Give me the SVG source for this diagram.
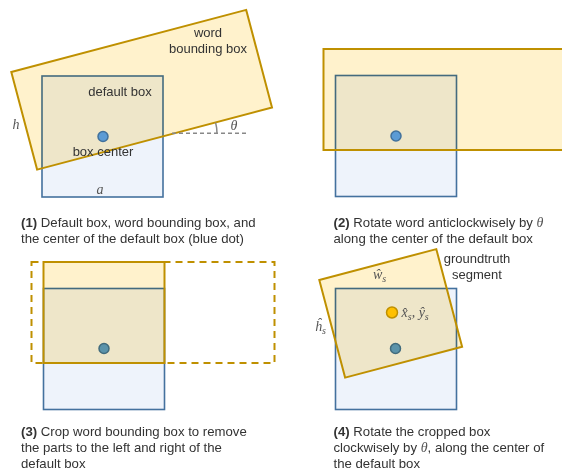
<svg xmlns="http://www.w3.org/2000/svg" width="562" height="470" viewBox="0 0 562 470">
<style>
.dbox{fill:#eef3fb;stroke:#44719e;stroke-width:1.6}
.wfill{fill:#fff2cc;stroke:none;mix-blend-mode:multiply}
.wline{fill:none;stroke:#bf9000;stroke-width:2}
.dash{fill:none;stroke:#bf9000;stroke-width:2;stroke-dasharray:7,5}
.dot{fill:#5b9bd5;stroke:#41719c;stroke-width:1.5}
.ydot{fill:#ffc000;stroke:#bf9000;stroke-width:1.5}
.lbl{font-family:"Liberation Sans",Arial,Helvetica,sans-serif;font-size:13px;fill:#333}
.cap{font-family:"Liberation Sans",Arial,Helvetica,sans-serif;font-size:13.2px;fill:#333}
.b{font-weight:bold}
.math{font-family:"Liberation Serif","DejaVu Serif",serif;font-style:italic;font-size:14px;fill:#555}
.sub{font-size:10px}
</style>
<defs>
  <polygon id="wb1" points="11.3,72 246.2,9.9 272,107.5 37.1,169.6"/>
  <rect id="wb2" x="323.5" y="49" width="243" height="101"/>
  <rect id="wb3" x="43.5" y="262" width="121" height="101"/>
  <polygon id="wb4" points="319.3,280 436.3,249.1 462.1,346.7 345.1,377.6"/>
</defs>

<!-- Panel 1 -->
<g id="panel1">
  <g id="p1-default-box"><rect class="dbox" x="42" y="76" width="121" height="121"/></g>
  <g id="p1-word-box"><use href="#wb1" class="wfill"/><use href="#wb1" class="wline"/></g>
  <g id="p1-center"><circle class="dot" cx="103" cy="136.5" r="5"/></g>
  <g id="connectors">
    <line x1="172" y1="133.3" x2="247" y2="133.3" stroke="#888" stroke-width="1.5" stroke-dasharray="4,3"/>
    <path d="M215.6,122.6 A42,42 0 0 1 217,133.3" fill="none" stroke="#888" stroke-width="1.5"/>
  </g>
  <text class="lbl" x="208" y="37" text-anchor="middle">word</text>
  <text class="lbl" x="208" y="53" text-anchor="middle">bounding box</text>
  <text class="lbl" x="120" y="96" text-anchor="middle">default box</text>
  <text class="lbl" x="103" y="156" text-anchor="middle">box center</text>
  <text class="math" x="234" y="130" text-anchor="middle">θ</text>
  <text class="math" x="16" y="129" text-anchor="middle">h</text>
  <text class="math" x="100" y="194" text-anchor="middle">a</text>
  <text class="cap" x="21" y="227"><tspan class="b">(1)</tspan> Default box, word bounding box, and</text>
  <text class="cap" x="21" y="243">the center of the default box (blue dot)</text>
</g>

<!-- Panel 2 -->
<g id="panel2">
  <g id="p2-default-box"><rect class="dbox" x="335.5" y="75.5" width="121" height="121"/></g>
  <g id="p2-word-box"><use href="#wb2" class="wfill"/><use href="#wb2" class="wline"/></g>
  <g id="p2-center"><circle class="dot" cx="396" cy="136" r="5"/></g>
  <text class="cap" x="333.5" y="227"><tspan class="b">(2)</tspan> Rotate word anticlockwisely by <tspan class="math">θ</tspan></text>
  <text class="cap" x="333.5" y="243">along the center of the default box</text>
</g>

<!-- Panel 3 -->
<g id="panel3">
  <g id="p3-default-box"><rect class="dbox" x="43.5" y="288.5" width="121" height="121"/></g>
  <g id="p3-center"><circle class="dot" cx="104" cy="348.5" r="5"/></g>
  <g id="p3-word-outline"><rect class="dash" x="31.5" y="262" width="243" height="101"/></g>
  <g id="p3-cropped-box"><use href="#wb3" class="wfill"/><use href="#wb3" class="wline"/></g>
  <text class="cap" x="21" y="435.5"><tspan class="b">(3)</tspan> Crop word bounding box to remove</text>
  <text class="cap" x="21" y="451.5">the parts to the left and right of the</text>
  <text class="cap" x="21" y="467.5">default box</text>
</g>

<!-- Panel 4 -->
<g id="panel4">
  <g id="p4-default-box"><rect class="dbox" x="335.5" y="288.5" width="121" height="121"/></g>
  <g id="p4-center"><circle class="dot" cx="395.5" cy="348.5" r="5"/></g>
  <g id="p4-segment"><use href="#wb4" class="wfill"/><use href="#wb4" class="wline"/></g>
  <g id="p4-seg-center"><circle class="ydot" cx="392" cy="312.5" r="5.5"/></g>
  <text class="lbl" x="477" y="263" text-anchor="middle">groundtruth</text>
  <text class="lbl" x="477" y="279" text-anchor="middle">segment</text>
  <text class="math" x="373" y="279">ŵ<tspan class="sub" dy="3">s</tspan></text>
  <text class="math" x="315" y="331">ĥ<tspan class="sub" dy="3">s</tspan></text>
  <text class="math" x="401.5" y="317">x̂<tspan class="sub" dy="3">s</tspan><tspan dy="-3">, ŷ</tspan><tspan class="sub" dy="3">s</tspan></text>
  <text class="cap" x="333.5" y="435.5"><tspan class="b">(4)</tspan> Rotate the cropped box</text>
  <text class="cap" x="333.5" y="451.5">clockwisely by <tspan class="math">θ</tspan>, along the center of</text>
  <text class="cap" x="333.5" y="467.5">the default box</text>
</g>
</svg>
